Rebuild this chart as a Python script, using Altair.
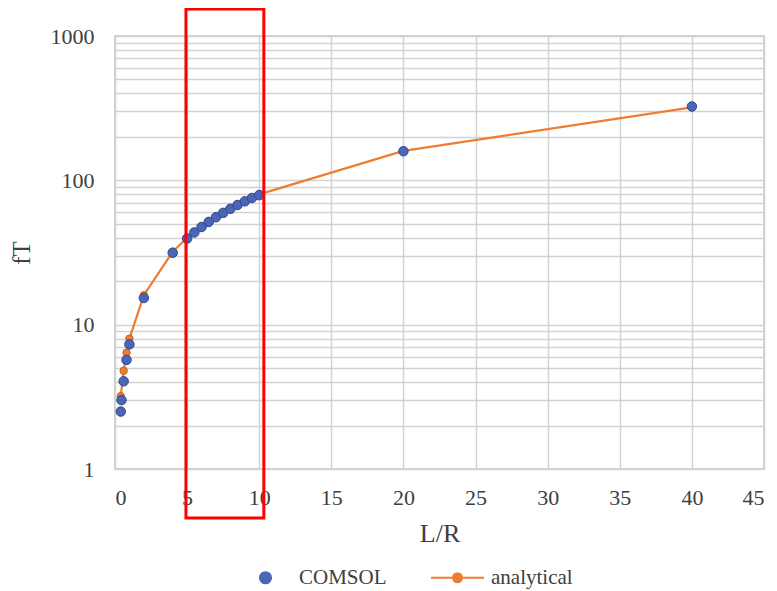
import altair as alt
import pandas as pd

# ---- data ----
analytical_x = [0.4, 0.6, 0.8, 1, 2, 4, 5, 5.5, 6, 6.5, 7, 7.5, 8, 8.5, 9, 9.5, 10, 20, 40]
analytical_y = [3.2, 4.8, 6.4, 8, 16, 32, 40, 44, 48, 52, 56, 60, 64, 68, 72, 76, 80, 160, 320]

comsol_x = [0.4, 0.45, 0.6, 0.8, 1, 2, 4, 5, 5.5, 6, 6.5, 7, 7.5, 8, 8.5, 9, 9.5, 10, 20, 40]
comsol_y = [2.5, 3.0, 4.05, 5.7, 7.3, 15.3, 31.5, 39.5, 43.5, 47.5, 51.5, 55.5, 59.5, 63.5, 67.5, 71.5, 75.5, 79, 159, 325]

series_names = ["COMSOL", "analytical"]
x_ticks = [0, 5, 10, 15, 20, 25, 30, 35, 40, 45]
y_grid = [m * 10 ** e for e in range(3) for m in range(1, 10)] + [1000]
y_labels = [1, 10, 100, 1000]

# highlight box (x extent in data units)
box_x0 = 4.92
box_x1 = 10.32

ana = pd.DataFrame({"x": analytical_x, "y": analytical_y, "series": "analytical"})
com = pd.DataFrame({"x": comsol_x, "y": comsol_y, "series": "COMSOL"})
leg = pd.DataFrame({"x": [comsol_x[-1], analytical_x[-1]],
                    "y": [comsol_y[-1], analytical_y[-1]],
                    "series": series_names})

FONT = "Liberation Serif"
TXT = "#404040"
GRID = "#d2d2d2"

xs = alt.Scale(domain=[0, 45], nice=False, zero=False)
ys = alt.Scale(type="log", domain=[1, 1000], nice=False)

x_axis = alt.Axis(values=x_ticks, grid=True, gridColor=GRID, gridWidth=1.5,
                  domain=False, ticks=False, tickSize=0, labelFont=FONT,
                  labelFontSize=22, labelColor=TXT, labelPadding=18,
                  title="L/R", titleFont=FONT, titleFontSize=26,
                  titleFontWeight="normal", titleColor=TXT, titlePadding=12)
label_expr = "indexof([1, 10, 100, 1000], datum.value) >= 0 ? datum.label : ''"
y_axis = alt.Axis(values=y_grid, grid=True, gridColor=GRID, gridWidth=1.5,
                  domain=False, ticks=False, tickSize=0, labelFont=FONT,
                  labelFontSize=22, labelColor=TXT, labelPadding=21,
                  format="d", labelExpr=label_expr, labelOverlap=False,
                  title="fT", titleFont=FONT, titleFontSize=25,
                  titleFontWeight="normal", titleColor=TXT, titlePadding=16)

line = alt.Chart(ana).mark_line(color="#ED7D31", strokeWidth=2.25).encode(
    x=alt.X("x:Q", scale=xs, axis=x_axis),
    y=alt.Y("y:Q", scale=ys, axis=y_axis),
)
ana_pts = alt.Chart(ana).mark_point(filled=True, size=55, fill="#ED7D31",
                                    stroke="#b8692f", strokeWidth=1, opacity=1).encode(
    x="x:Q", y="y:Q")
com_pts = alt.Chart(com).mark_point(filled=True, size=90, fill="#4a66b8",
                                    stroke="#34468c", strokeWidth=1, opacity=1).encode(
    x="x:Q", y="y:Q")

circle_path = "M-0.21,0A0.21,0.21,0,1,0,0.21,0A0.21,0.21,0,1,0,-0.21,0Z"
line_dot_path = ("M-1,0L1,0M-0.17,0A0.17,0.17,0,1,0,0.17,0"
                 "A0.17,0.17,0,1,0,-0.17,0Z")

legend_layer = alt.Chart(leg).mark_point(filled=True, opacity=0, size=10).encode(
    x="x:Q", y="y:Q",
    shape=alt.Shape("series:N", scale=alt.Scale(domain=series_names,
                                                range=[circle_path, line_dot_path]),
                    legend=alt.Legend(title=None, orient="none", direction="horizontal",
                                      legendX=123, legendY=514, symbolSize=2809,
                                      symbolOpacity=1, symbolStrokeWidth=2,
                                      labelFont=FONT, labelFontSize=21,
                                      labelColor=TXT, columnPadding=40,
                                      labelOffset=6, labelLimit=300)),
    fill=alt.Fill("series:N", scale=alt.Scale(domain=series_names,
                                              range=["#4a66b8", "#ED7D31"])),
    stroke=alt.Stroke("series:N", scale=alt.Scale(domain=series_names,
                                                  range=["#4a66b8", "#ED7D31"])),
)

box = alt.Chart(pd.DataFrame({"a": [0]})).mark_rect(
    fillOpacity=0, stroke="#FF0000", strokeWidth=3).encode(
    x=alt.datum(box_x0), x2=alt.datum(box_x1),
    y=alt.value(-27), y2=alt.value(482))

chart = alt.layer(line, ana_pts, com_pts, legend_layer, box).properties(
    width=649, height=433,
    autosize=alt.AutoSizeParams(type="none"),
    padding={"left": 107, "top": 28, "right": 4, "bottom": 120},
).configure_view(stroke="#c0c0c0", strokeWidth=1.5)

chart.save("out.html", embed_options={"renderer": "svg", "actions": False})
